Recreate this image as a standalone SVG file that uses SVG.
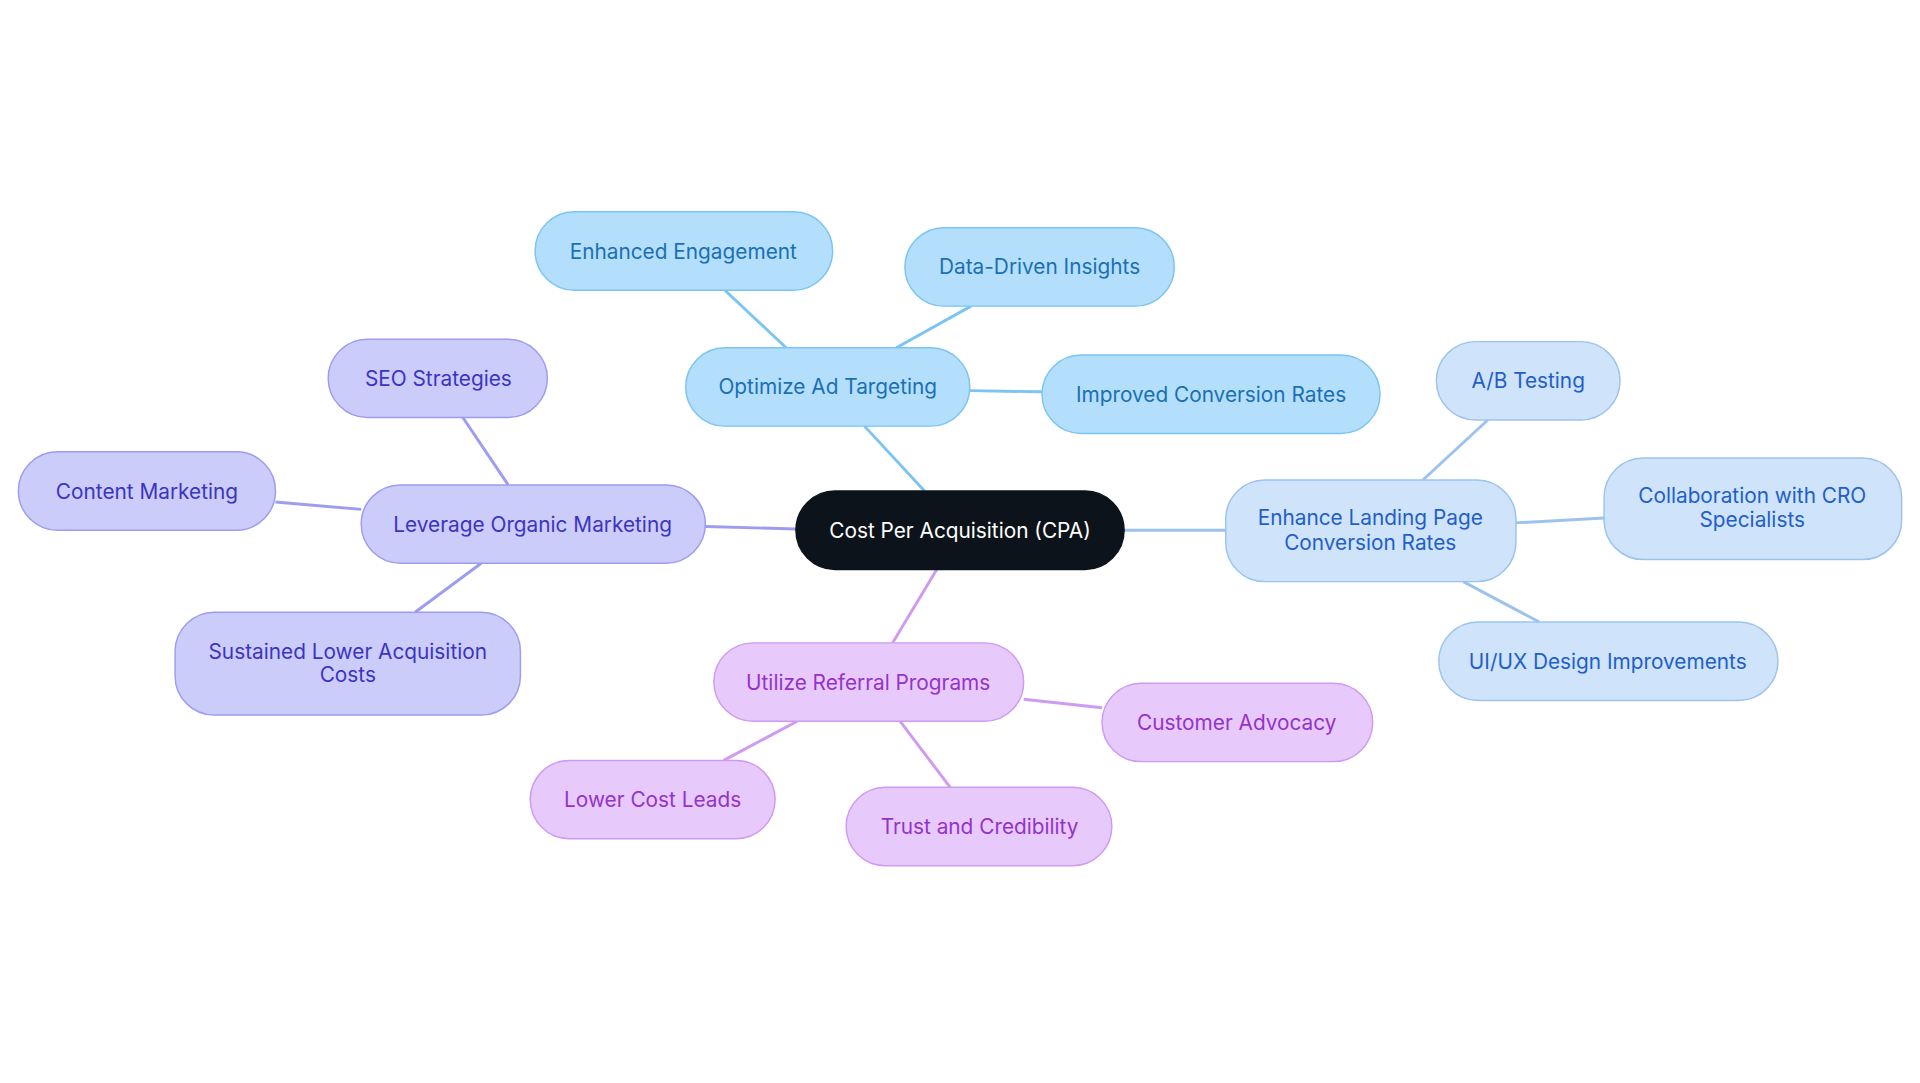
<svg xmlns="http://www.w3.org/2000/svg" width="1920" height="1083" viewBox="0 0 1920 1083">
<style>
text{font-family:Inter,"Noto Sans",sans-serif;font-size:17px;text-anchor:middle;dominant-baseline:central}
.c rect{fill:#0d131a;stroke:#0d131a;stroke-width:1.2}.c text{fill:#fff}
.b rect{fill:#b3dffc;stroke:#7cc4f2;stroke-width:1.2}.b text{fill:#1b6fb3}
.l rect{fill:#cfe3fa;stroke:#9cc3ee;stroke-width:1.2}.l text{fill:#1f5fc7}
.p rect{fill:#ccccfb;stroke:#9d9cf0;stroke-width:1.2}.p text{fill:#3b34c0}
.m rect{fill:#e8c9fc;stroke:#cf9bf2;stroke-width:1.2}.m text{fill:#9433c9}
#edges line{stroke-width:2.4}
</style>
<rect width="1920" height="1083" fill="#fff"/>
<g transform="scale(1.2245)">
<g id="edges">
<line x1="755" y1="401" x2="706" y2="348" stroke="#7cc4f2"/>
<line x1="642" y1="284" x2="592" y2="237" stroke="#7cc4f2"/>
<line x1="732" y1="284" x2="793" y2="250" stroke="#7cc4f2"/>
<line x1="792" y1="319" x2="851" y2="320" stroke="#7cc4f2"/>
<line x1="918" y1="433" x2="1001" y2="433" stroke="#9cc3ee"/>
<line x1="1162" y1="392" x2="1215" y2="343" stroke="#9cc3ee"/>
<line x1="1238" y1="427" x2="1310" y2="423" stroke="#9cc3ee"/>
<line x1="1195" y1="475" x2="1257" y2="508" stroke="#9cc3ee"/>
<line x1="650" y1="432" x2="576" y2="430" stroke="#9d9cf0"/>
<line x1="415" y1="396" x2="378" y2="341" stroke="#9d9cf0"/>
<line x1="295" y1="416" x2="225" y2="410" stroke="#9d9cf0"/>
<line x1="393" y1="460" x2="339" y2="500" stroke="#9d9cf0"/>
<line x1="765" y1="465" x2="729" y2="525" stroke="#cf9bf2"/>
<line x1="836" y1="571" x2="900" y2="578" stroke="#cf9bf2"/>
<line x1="651" y1="589" x2="591" y2="621" stroke="#cf9bf2"/>
<line x1="735" y1="589" x2="776" y2="643" stroke="#cf9bf2"/>
</g>
<g id="n0" class="c"><rect x="650" y="401" width="268" height="64" rx="32"/><text x="784" y="433">Cost Per Acquisition (CPA)</text></g>
<g id="n1" class="b"><rect x="560" y="284" width="232" height="64" rx="32"/><text x="676" y="316">Optimize Ad Targeting</text></g>
<g id="n2" class="b"><rect x="437" y="173" width="243" height="64" rx="32"/><text x="558" y="205">Enhanced Engagement</text></g>
<g id="n3" class="b"><rect x="739" y="186" width="220" height="64" rx="32"/><text x="849" y="218">Data-Driven Insights</text></g>
<g id="n4" class="b"><rect x="851" y="290" width="276" height="64" rx="32"/><text x="989" y="322">Improved Conversion Rates</text></g>
<g id="n5" class="l"><rect x="1001" y="392" width="237" height="83" rx="32"/><text x="1119" y="423">Enhance Landing Page</text><text x="1119" y="443">Conversion Rates</text></g>
<g id="n6" class="l"><rect x="1173" y="279" width="150" height="64" rx="32"/><text x="1248" y="311">A/B Testing</text></g>
<g id="n7" class="l"><rect x="1310" y="374" width="243" height="83" rx="32"/><text x="1431" y="405">Collaboration with CRO</text><text x="1431" y="424">Specialists</text></g>
<g id="n8" class="l"><rect x="1175" y="508" width="277" height="64" rx="32"/><text x="1313" y="540">UI/UX Design Improvements</text></g>
<g id="n9" class="p"><rect x="295" y="396" width="281" height="64" rx="32"/><text x="435" y="428">Leverage Organic Marketing</text></g>
<g id="n10" class="p"><rect x="268" y="277" width="179" height="64" rx="32"/><text x="358" y="309">SEO Strategies</text></g>
<g id="n11" class="p"><rect x="15" y="369" width="210" height="64" rx="32"/><text x="120" y="401">Content Marketing</text></g>
<g id="n12" class="p"><rect x="143" y="500" width="282" height="84" rx="32"/><text x="284" y="532">Sustained Lower Acquisition</text><text x="284" y="551">Costs</text></g>
<g id="n13" class="m"><rect x="583" y="525" width="253" height="64" rx="32"/><text x="709" y="557">Utilize Referral Programs</text></g>
<g id="n14" class="m"><rect x="900" y="558" width="221" height="64" rx="32"/><text x="1010" y="590">Customer Advocacy</text></g>
<g id="n15" class="m"><rect x="433" y="621" width="200" height="64" rx="32"/><text x="533" y="653">Lower Cost Leads</text></g>
<g id="n16" class="m"><rect x="691" y="643" width="217" height="64" rx="32"/><text x="800" y="675">Trust and Credibility</text></g>
</g>
</svg>
